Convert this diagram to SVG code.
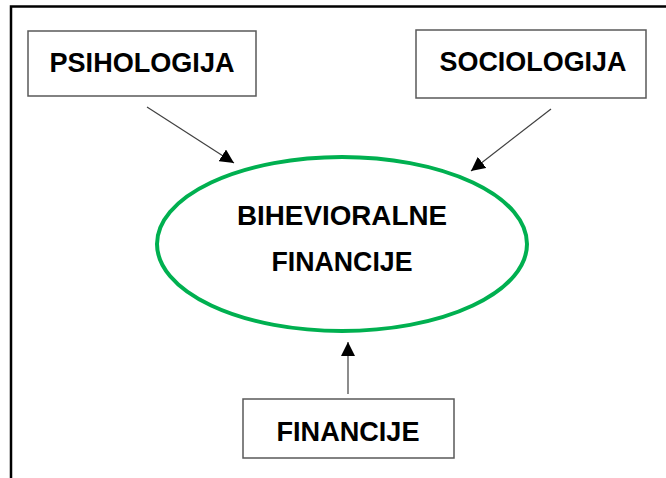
<svg xmlns="http://www.w3.org/2000/svg" width="666" height="478" viewBox="0 0 666 478">
<style>
.box{fill:#fff;stroke:#595959;stroke-width:1.5}
.lbl{font-family:"Liberation Sans",Arial,sans-serif;font-weight:bold;font-size:28px;fill:#000;text-anchor:middle}
.con{stroke:#404040;stroke-width:1.2;fill:none}
</style>
<defs>
<marker id="ah" viewBox="0 0 10 10" refX="10" refY="5" markerWidth="14" markerHeight="14" markerUnits="userSpaceOnUse" orient="auto">
<path d="M0,0 L10,5 L0,10 Z" fill="#000"/>
</marker>
</defs>
<rect width="666" height="478" fill="#fff"/>
<path d="M11,478 V6.5 H666" fill="none" stroke="#000" stroke-width="2.5"/>
<g id="connectors">
<line class="con" x1="147" y1="107" x2="234" y2="163" marker-end="url(#ah)"/>
<line class="con" x1="551" y1="109" x2="471" y2="171" marker-end="url(#ah)"/>
<line class="con" x1="348" y1="394" x2="348" y2="342" marker-end="url(#ah)"/>
</g>
<g id="psihologija">
<rect class="box" x="28" y="31" width="228" height="65"/>
<text class="lbl" x="142" y="72" textLength="185" lengthAdjust="spacingAndGlyphs">PSIHOLOGIJA</text>
</g>
<g id="sociologija">
<rect class="box" x="416" y="30" width="230" height="68"/>
<text class="lbl" x="533" y="71" textLength="187" lengthAdjust="spacingAndGlyphs">SOCIOLOGIJA</text>
</g>
<g id="bihevioralne">
<ellipse cx="342" cy="244" rx="185" ry="87" fill="#fff" stroke="#00B050" stroke-width="4"/>
<text class="lbl" x="342" y="225" textLength="210" lengthAdjust="spacingAndGlyphs">BIHEVIORALNE</text>
<text class="lbl" x="342" y="271" textLength="141" lengthAdjust="spacingAndGlyphs">FINANCIJE</text>
</g>
<g id="financije">
<rect class="box" x="243" y="399" width="211" height="59"/>
<text class="lbl" x="348" y="441" textLength="143" lengthAdjust="spacingAndGlyphs">FINANCIJE</text>
</g>
</svg>
